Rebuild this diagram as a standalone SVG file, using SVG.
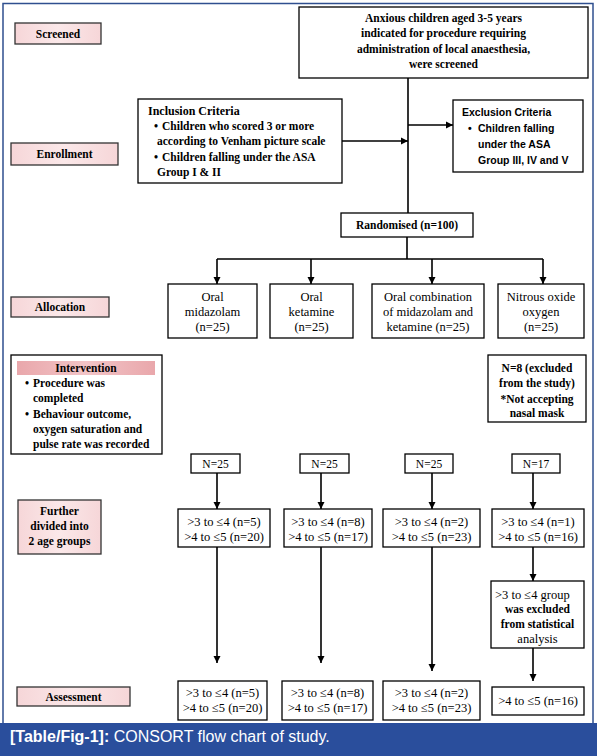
<svg xmlns="http://www.w3.org/2000/svg" width="597" height="756" viewBox="0 0 597 756">
<defs>
<marker id="ah" markerWidth="8" markerHeight="8" refX="7" refY="4" orient="auto" markerUnits="userSpaceOnUse">
<path d="M0,0.5 L7,4 L0,7.5 Z" fill="#000"/>
</marker>
<linearGradient id="pk" x1="0" y1="0" x2="1" y2="0">
<stop offset="0" stop-color="#f6d6d8"/><stop offset="0.5" stop-color="#fbe8e9"/><stop offset="1" stop-color="#f6d6d8"/>
</linearGradient>
<linearGradient id="pk2" x1="0" y1="0" x2="1" y2="0">
<stop offset="0" stop-color="#e9a7ab"/><stop offset="0.5" stop-color="#f2c4c7"/><stop offset="1" stop-color="#e9a7ab"/>
</linearGradient>
</defs>
<style>
.b{fill:#fff;stroke:#000;stroke-width:1.3}
.lab{fill:url(#pk);stroke:#333;stroke-width:1.3}
text{font-family:"Liberation Serif","Times New Roman",serif;font-size:11.5px;fill:#000}
.c{text-anchor:middle}
.bd{font-weight:bold}
.n{font-size:12.5px}
.s{font-family:"Liberation Sans",Arial,sans-serif;font-size:10.5px;font-weight:bold}
.ln{stroke:#000;stroke-width:1.6;fill:none}
.ar{stroke:#000;stroke-width:1.6;fill:none;marker-end:url(#ah)}
</style>
<rect x="0" y="0" width="597" height="756" fill="#fff"/>
<rect x="3" y="3.5" width="590" height="730" fill="none" stroke="#2f4f8f" stroke-width="1.5"/>
<rect x="0" y="723" width="597" height="33" fill="#2a4e9c"/>
<text x="10" y="742" style="font-family:'Liberation Sans',Arial,sans-serif;font-size:16px;fill:#fff"><tspan font-weight="bold">[Table/Fig-1]:</tspan> CONSORT flow chart of study.</text>

<g id="label-screened"><rect class="lab" x="15" y="23" width="86" height="21"/><text class="c bd" x="58" y="37.5">Screened</text></g>
<g id="label-enrollment"><rect class="lab" x="11" y="143" width="107" height="22"/><text class="c bd" x="64.5" y="158">Enrollment</text></g>
<g id="label-allocation"><rect class="lab" x="11" y="297" width="98" height="20"/><text class="c bd" x="60" y="311">Allocation</text></g>
<g id="label-further"><rect class="lab" x="18" y="500" width="83" height="54"/><text class="c bd" x="59.5" y="515">Further</text><text class="c bd" x="59.5" y="530">divided into</text><text class="c bd" x="59.5" y="545">2 age groups</text></g>
<g id="label-assessment"><rect class="lab" x="17" y="687" width="113" height="19"/><text class="c bd" x="73.5" y="700.5">Assessment</text></g>

<g id="screened"><rect class="b" x="299" y="7" width="289" height="71"/>
<text class="c bd" x="443.5" y="22">Anxious children aged 3-5 years</text>
<text class="c bd" x="443.5" y="37">indicated for procedure requiring</text>
<text class="c bd" x="443.5" y="53">administration of local anaesthesia,</text>
<text class="c bd" x="443.5" y="68">were screened</text></g>

<g id="inclusion"><rect class="b" x="138" y="99" width="204" height="84"/>
<text class="bd" x="148" y="115" style="font-size:12px">Inclusion Criteria</text>
<text class="bd" x="154" y="130">•</text><text class="bd" x="162" y="130">Children who scored 3 or more</text>
<text class="bd" x="157" y="145">according to Venham picture scale</text>
<text class="bd" x="154" y="161">•</text><text class="bd" x="162" y="161">Children falling under the ASA</text>
<text class="bd" x="157" y="176">Group I &amp; II</text></g>

<g id="exclusion"><rect class="b" x="453" y="100" width="130" height="72"/>
<text class="s" x="462" y="116">Exclusion Criteria</text>
<text class="s" x="468" y="132">•</text><text class="s" x="478" y="132">Children falling</text>
<text class="s" x="478" y="148">under the ASA</text>
<text class="s" x="478" y="164">Group III, IV and V</text></g>

<g id="randomised"><rect class="b" x="341" y="213" width="132" height="24"/><text class="c bd" x="407" y="229">Randomised (n=100)</text></g>

<g id="alloc-midazolam"><rect class="b" x="168" y="284" width="89" height="54"/><text class="c n" x="212.5" y="301">Oral</text><text class="c n" x="212.5" y="316">midazolam</text><text class="c n" x="212.5" y="331">(n=25)</text></g>
<g id="alloc-ketamine"><rect class="b" x="270" y="284" width="83" height="54"/><text class="c n" x="311.5" y="301">Oral</text><text class="c n" x="311.5" y="316">ketamine</text><text class="c n" x="311.5" y="331">(n=25)</text></g>
<g id="alloc-combination"><rect class="b" x="372" y="284" width="112" height="54"/><text class="c n" x="428" y="301">Oral combination</text><text class="c n" x="428" y="316">of midazolam and</text><text class="c n" x="428" y="331">ketamine (n=25)</text></g>
<g id="alloc-nitrous"><rect class="b" x="498" y="284" width="86" height="54"/><text class="c n" x="541" y="301">Nitrous oxide</text><text class="c n" x="541" y="316">oxygen</text><text class="c n" x="541" y="331">(n=25)</text></g>

<g id="intervention"><rect class="b" x="11" y="355" width="151" height="99"/>
<rect x="17" y="361" width="138" height="14" fill="url(#pk2)"/>
<text class="c bd" x="86" y="372">Intervention</text>
<text class="bd" x="25" y="387">•</text><text class="bd" x="33" y="387">Procedure was</text>
<text class="bd" x="33" y="402">completed</text>
<text class="bd" x="25" y="418">•</text><text class="bd" x="33" y="418">Behaviour outcome,</text>
<text class="bd" x="33" y="433">oxygen saturation and</text>
<text class="bd" x="33" y="448">pulse rate was recorded</text></g>

<g id="excluded-n8"><rect class="b" x="488" y="355" width="98" height="67"/>
<text class="c bd" x="537" y="372">N=8 (excluded</text>
<text class="c bd" x="537" y="387">from the study)</text>
<text class="c bd" x="537" y="403">*Not accepting</text>
<text class="c bd" x="537" y="417">nasal mask</text></g>

<g id="n-midazolam"><rect class="b" x="191" y="454" width="49" height="19"/><text class="c" x="215.5" y="467.5">N=25</text></g>
<g id="n-ketamine"><rect class="b" x="300" y="454" width="49" height="19"/><text class="c" x="324.5" y="467.5">N=25</text></g>
<g id="n-combination"><rect class="b" x="405" y="454" width="48" height="19"/><text class="c" x="429" y="467.5">N=25</text></g>
<g id="n-nitrous"><rect class="b" x="512" y="454" width="48" height="19"/><text class="c" x="536" y="467.5">N=17</text></g>

<g id="age-midazolam"><rect class="b" x="178" y="509" width="92" height="38"/><text class="c n" x="224" y="526">&gt;3 to ≤4 (n=5)</text><text class="c n" x="224" y="541">&gt;4 to ≤5 (n=20)</text></g>
<g id="age-ketamine"><rect class="b" x="284" y="509" width="88" height="38"/><text class="c n" x="328" y="526">&gt;3 to ≤4 (n=8)</text><text class="c n" x="328" y="541">&gt;4 to ≤5 (n=17)</text></g>
<g id="age-combination"><rect class="b" x="383" y="509" width="97" height="38"/><text class="c n" x="431.5" y="526">&gt;3 to ≤4 (n=2)</text><text class="c n" x="431.5" y="541">&gt;4 to ≤5 (n=23)</text></g>
<g id="age-nitrous"><rect class="b" x="492" y="509" width="92" height="38"/><text class="c n" x="538" y="526">&gt;3 to ≤4 (n=1)</text><text class="c n" x="538" y="541">&gt;4 to ≤5 (n=16)</text></g>

<g id="excluded-group"><rect class="b" x="491" y="581" width="93" height="67"/>
<text class="n" x="495" y="599">&gt;3 to ≤4 group</text>
<text class="c bd" x="537.5" y="613">was excluded</text>
<text class="c bd" x="537.5" y="628">from statistical</text>
<text class="c n" x="537.5" y="643">analysis</text></g>

<g id="assess-midazolam"><rect class="b" x="178" y="681" width="89" height="39"/><text class="c n" x="222.5" y="697">&gt;3 to ≤4 (n=5)</text><text class="c n" x="222.5" y="712">&gt;4 to ≤5 (n=20)</text></g>
<g id="assess-ketamine"><rect class="b" x="282" y="681" width="91" height="39"/><text class="c n" x="327.5" y="697">&gt;3 to ≤4 (n=8)</text><text class="c n" x="327.5" y="712">&gt;4 to ≤5 (n=17)</text></g>
<g id="assess-combination"><rect class="b" x="383" y="681" width="97" height="39"/><text class="c n" x="431.5" y="697">&gt;3 to ≤4 (n=2)</text><text class="c n" x="431.5" y="712">&gt;4 to ≤5 (n=23)</text></g>
<g id="assess-nitrous"><rect class="b" x="492" y="687" width="92" height="28"/><text class="c n" x="538" y="705">&gt;4 to ≤5 (n=16)</text></g>

<g id="connectors">
<path class="ln" d="M408,78 V213"/>
<path class="ar" d="M342,141 H408"/>
<path class="ar" d="M408,125 H453"/>
<path class="ln" d="M407,237 V259 M217,259 H543"/>
<path class="ar" d="M217,259 V284"/>
<path class="ar" d="M311,259 V284"/>
<path class="ar" d="M432,259 V284"/>
<path class="ar" d="M543,259 V284"/>
<path class="ar" d="M217,473 V509"/>
<path class="ar" d="M321,473 V509"/>
<path class="ar" d="M432,473 V509"/>
<path class="ar" d="M533,473 V509"/>
<path class="ar" d="M217,547 V663"/>
<path class="ar" d="M321,547 V663"/>
<path class="ar" d="M432,547 V671"/>
<path class="ar" d="M533,547 V581"/>
<path class="ar" d="M533,648 V681"/>
</g>
</svg>
